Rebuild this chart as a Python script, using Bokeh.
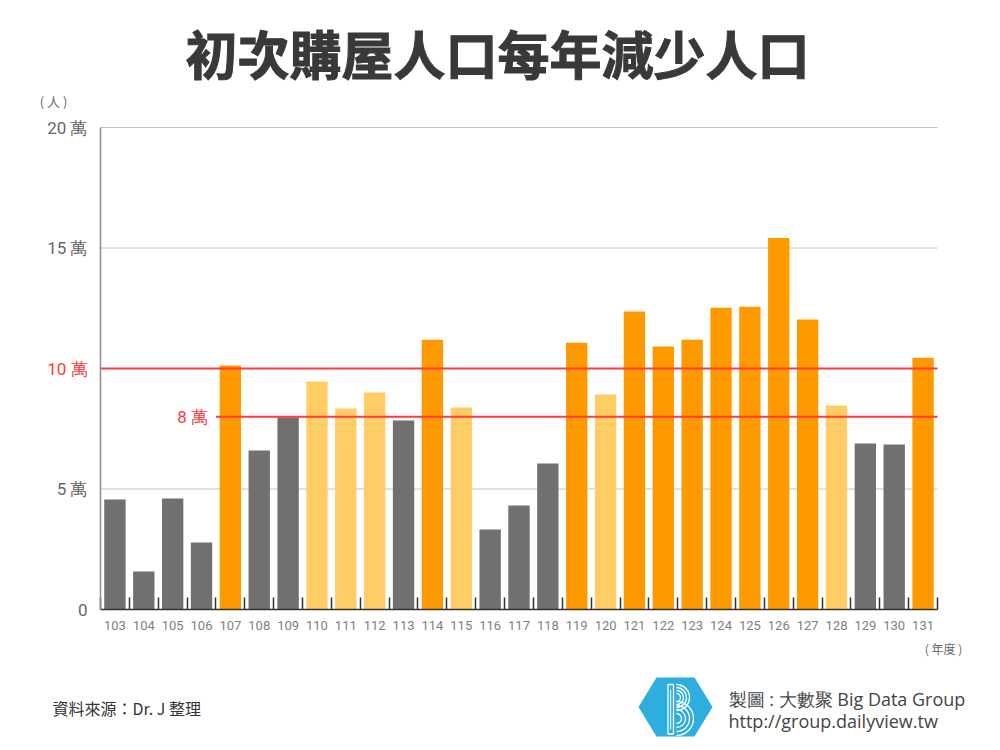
import math
from bokeh.plotting import figure
from bokeh.models import Range1d, ColumnDataSource, Label, FixedTicker
from bokeh.embed import file_html
from bokeh.resources import INLINE

# ---------------- data ----------------
years = [str(y) for y in range(103, 132)]
values = [4.56, 1.58, 4.61, 2.78, 10.12, 6.60, 7.97, 9.46, 8.34, 9.00,
          7.84, 11.19, 8.38, 3.32, 4.32, 6.06, 11.07, 8.92, 12.36, 10.91,
          11.19, 12.52, 12.56, 15.41, 12.03, 8.46, 6.89, 6.85, 10.45]
y_ticks = [0, 5, 10, 15, 20]
y_tick_labels = ["0", "5 萬", "10 萬", "15 萬", "20 萬"]
ref_high = 10
ref_low = 8
ref_low_start = "107"
title_text = "初次購屋人口每年減少人口"
unit_text = "( 人 )"
xunit_text = "( 年度 )"
source_text = "資料來源：Dr. J 整理"
credit_line1 = "製圖 : 大數聚 Big Data Group"
credit_line2 = "http://group.dailyview.tw"

GRAY = "#707070"
LIGHT = "#FFCC66"
ORANGE = "#FF9900"
RED = "#FF3B3B"
colors = [ORANGE if v >= ref_high else (LIGHT if v >= ref_low else GRAY) for v in values]
idx = list(range(len(years)))
n = len(years)

# ---------------- layout geometry (page pixels) ----------------
W, H = 992, 742
PAGE_L, PAGE_T = 0, 0
PAGE_R, PAGE_B = PAGE_L + W, PAGE_T + H
PLOT_L, PLOT_R = 100, 937          # page x of first/last category boundary
Y0_PX, YTOP_PX = 609, 127          # page y of value 0 and value 20
YMAX = 20

xu = (PLOT_R - PLOT_L) / n          # px per category
yu = (Y0_PX - YTOP_PX) / YMAX       # px per unit
x_start = -0.5 - (PLOT_L - PAGE_L) / xu
x_end = n - 0.5 + (PAGE_R - PLOT_R) / xu
y_start = -(PAGE_B - Y0_PX) / yu
y_end = YMAX + (YTOP_PX - PAGE_T) / yu


def dx(px):
    return x_start + (px - PAGE_L) / xu


def dy(py):
    return y_start + (PAGE_B - py) / yu


p = figure(x_range=Range1d(x_start, x_end), y_range=Range1d(y_start, y_end),
           width=W, height=H, output_backend="svg", toolbar_location=None,
           min_border=0, min_border_left=0, min_border_right=0, min_border_top=0, min_border_bottom=0)
p.extra_x_ranges = {"px": Range1d(PAGE_L, PAGE_R)}
p.extra_y_ranges = {"py": Range1d(PAGE_B, PAGE_T)}
p.outline_line_color = None
p.background_fill_color = "white"
p.border_fill_color = "white"
p.grid.visible = False

# gridlines (behind bars)
grid_vals = [t for t in y_ticks if t not in (0, ref_high)]
p.segment(x0=[-0.5] * len(grid_vals), x1=[n - 0.5] * len(grid_vals), y0=grid_vals, y1=grid_vals,
          line_color="#c4c4c4", line_width=1)

# axes drawn at fixed data locations
yax = p.yaxis[0]
yax.fixed_location = -0.5
yax.bounds = (0, YMAX)
yax.ticker = FixedTicker(ticks=y_ticks)
yax.major_label_overrides = {t: ("" if t == ref_high else l) for t, l in zip(y_ticks, y_tick_labels)}
yax.axis_line_color = "#8c8c8c"
yax.axis_line_width = 1.5
yax.major_tick_line_color = None
yax.major_tick_out = 0
yax.major_tick_in = 0
yax.minor_tick_line_color = None
yax.minor_tick_out = 0
yax.major_label_standoff = 13
yax.major_label_text_font = "Roboto"
yax.major_label_text_font_size = "17px"
yax.major_label_text_color = "#666666"

xax = p.xaxis[0]
xax.fixed_location = 0
xax.bounds = (-0.5, n - 0.5)
xax.ticker = FixedTicker(ticks=idx, minor_ticks=[i - 0.5 for i in range(n + 1)])
xax.major_label_overrides = {i: y for i, y in zip(idx, years)}
xax.axis_line_color = "#333333"
xax.axis_line_width = 1.5
xax.major_tick_line_color = None
xax.major_tick_out = 0
xax.major_tick_in = 0
xax.minor_tick_line_color = "#333333"
xax.minor_tick_line_width = 1.5
xax.minor_tick_in = 12
xax.minor_tick_out = 0
xax.major_label_standoff = 11
xax.major_label_text_font = "Roboto"
xax.major_label_text_font_size = "13px"
xax.major_label_text_color = "#808080"

src = ColumnDataSource(dict(x=idx, year=years, value=values, color=colors))
p.vbar(x="x", top="value", width=0.74, fill_color="color", line_color=None, source=src)

# reference lines (on top of bars)
p.segment(x0=[-0.5], x1=[n - 0.5], y0=[ref_high], y1=[ref_high], line_color=RED, line_width=2)
s = years.index(ref_low_start)
p.segment(x0=[s - 0.5], x1=[n - 0.5], y0=[ref_low], y1=[ref_low], line_color=RED, line_width=2)

# texts
p.add_layout(Label(x=dx(497), y=dy(52), text=title_text,
                   text_align="center", text_baseline="middle", text_font="Noto Sans CJK TC",
                   text_font_style="bold", text_font_size="52px", text_color="#3a3838",
                   text_outline_color="#3a3838"))
p.add_layout(Label(x=dx(53), y=dy(101), text=unit_text,
                   text_align="center", text_baseline="middle", text_font="Noto Sans CJK TC",
                   text_font_size="13px", text_color="#666666"))
p.add_layout(Label(x=dx(PLOT_L), y=ref_high, x_offset=-13, text=y_tick_labels[2],
                   text_align="right", text_baseline="middle", text_font="Roboto",
                   text_font_size="17px", text_color=RED))
p.add_layout(Label(x=s - 0.5, y=ref_low, x_offset=-8, text=f"{ref_low} 萬",
                   text_align="right", text_baseline="middle", text_font="Roboto",
                   text_font_size="17px", text_color=RED))
p.add_layout(Label(x=dx(943), y=dy(648), text=xunit_text,
                   text_align="center", text_baseline="middle", text_font="Noto Sans CJK TC",
                   text_font_size="12px", text_color="#666666"))

# footer: source + logo + credits (page-pixel ranges)
p.add_layout(Label(x=dx(52), y=dy(707), text=source_text, text_align="left", text_baseline="middle",
                   text_font="Noto Sans CJK TC", text_font_size="16px", text_color="#333333"))
p.add_layout(Label(x=dx(728), y=dy(698), text=credit_line1, text_align="left", text_baseline="middle",
                   text_font="Open Sans", text_font_size="18px", text_color="#444444"))
p.add_layout(Label(x=dx(728), y=dy(720), text=credit_line2, text_align="left", text_baseline="middle",
                   text_font="Open Sans", text_font_size="18px", text_color="#444444"))

cx, cy, rx, hw, hh = 675, 706.5, 37, 19, 29.5
p.patch(x=[cx - rx, cx - hw, cx + hw, cx + rx, cx + hw, cx - hw],
        y=[cy, cy - hh, cy - hh, cy, cy + hh, cy + hh],
        fill_color="#2DAEDF", line_color=None, x_range_name="px", y_range_name="py")
p.quad(left=[667.5], right=[673], top=[684], bottom=[733.5], fill_color=None,
       line_color="white", line_width=1.3, x_range_name="px", y_range_name="py")
p.segment(x0=[670.2], y0=[689], x1=[670.2], y1=[729], line_color="white", line_width=1,
          x_range_name="px", y_range_name="py")
for r in [4, 7, 10, 13]:
    p.arc(x=[676], y=[697], radius=r, start_angle=-math.pi / 2, end_angle=math.pi / 2,
          line_color="white", line_width=1.3, x_range_name="px", y_range_name="py")
for r in [5, 9, 13, 17]:
    p.arc(x=[676], y=[718], radius=r, start_angle=-math.pi / 2, end_angle=math.pi / 2,
          line_color="white", line_width=1.3, x_range_name="px", y_range_name="py")

open("out.html", "w").write(file_html(p, INLINE))
